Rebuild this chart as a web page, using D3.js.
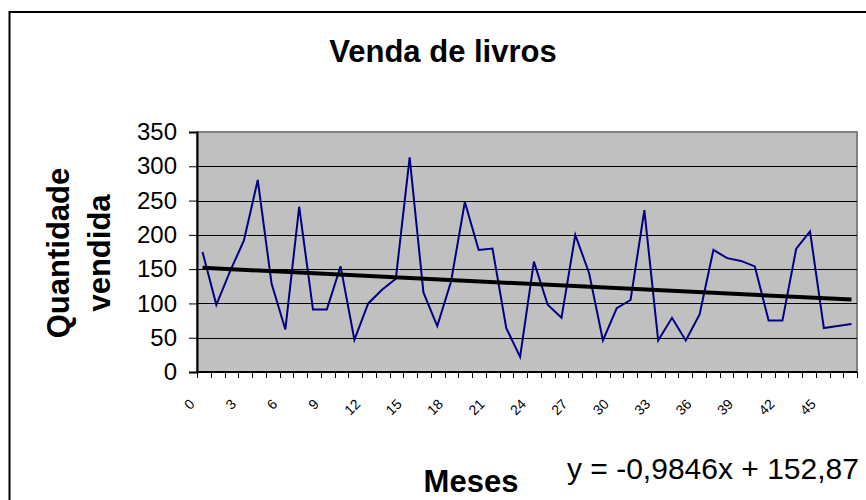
<!DOCTYPE html>
<html>
<head>
<meta charset="utf-8">
<script src="https://cdn.jsdelivr.net/npm/d3@7"></script>
<style>
  body { margin: 0; background: #fff; }
  text { font-family: "Liberation Sans", Arial, sans-serif; }
</style>
</head>
<body>
<div id="chart"></div>
<script>
// Venda de livros - line chart with linear trendline

const width = 866,
    height = 500;

// months (category labels) and books sold per month
const months = [0, 1, 2, 3, 4, 5, 6, 7, 8, 9, 10, 11, 12, 13, 14, 15, 16, 17, 18, 19, 20, 21, 22, 23,
  24, 25, 26, 27, 28, 29, 30, 31, 32, 33, 34, 35, 36, 37, 38, 39, 40, 41, 42, 43, 44, 45, 46, 47];
const sold = [175, 98, 147, 192, 280, 129, 62, 241, 91, 91, 154, 47, 100, 120, 136, 313, 116, 67, 132, 248, 178, 180, 64, 22,
  161, 98, 79, 200, 144, 46, 93, 105, 236, 46, 79, 46, 84, 178, 166, 162, 154, 75, 75, 180, 205, 64, 67, 70];
// only every third month gets a label
const xLabels = [0, 3, 6, 9, 12, 15, 18, 21, 24, 27, 30, 33, 36, 39, 42, 45];
const yTicks = [0, 50, 100, 150, 200, 250, 300, 350];

// trendline as printed on the chart
const slope = -0.9846,
    intercept = 152.87;
const equation = "y = -0,9846x + 152,87";

// plot area
const plotLeft = 197, plotRight = 857, plotTop = 132, plotBottom = 372;

let svg = d3.select("#chart")
  .append("svg")
    .attr("width", width)
    .attr("height", height);

svg.append("rect")
    .attr("width", width)
    .attr("height", height)
    .attr("fill", "white");

// chart frame (runs off the right and bottom)
svg.append("rect")
    .attr("x", 9.5)
    .attr("y", 12)
    .attr("width", 880)
    .attr("height", 520)
    .attr("fill", "none")
    .attr("stroke", "black")
    .attr("stroke-width", 2);

// scales
const y = d3.scaleLinear()
  .domain([0, 350])
  .range([plotBottom, plotTop]);

const xBand = d3.scaleBand()
  .domain(months)
  .range([plotLeft, plotRight]);

const x = d3.scalePoint()
  .domain(months)
  .range([plotLeft, plotRight])
  .padding(0.4);

// plot background
svg.append("rect")
    .attr("x", plotLeft)
    .attr("y", plotTop)
    .attr("width", plotRight - plotLeft)
    .attr("height", plotBottom - plotTop)
    .attr("fill", "#c0c0c0")
    .attr("stroke", "#808080")
    .attr("stroke-width", 2);

// horizontal gridlines
svg.selectAll("grid")
  .data(yTicks.filter(d => d > 0 && d < 350))
  .join("line")
    .attr("x1", plotLeft)
    .attr("x2", plotRight)
    .attr("y1", d => Math.round(y(d)) + 0.5)
    .attr("y2", d => Math.round(y(d)) + 0.5)
    .attr("stroke", "black")
    .attr("stroke-width", 1);

// y axis
const yAxis = svg.append("g")
    .attr("transform", `translate(${plotLeft}, 0)`)
    .call(d3.axisLeft(y).tickValues(yTicks).tickSize(8).tickPadding(12));
yAxis.select(".domain").attr("stroke-width", 2);
yAxis.selectAll("text")
    .attr("font-size", "24px")
    .attr("fill", "black")
    .attr("font-family", "Liberation Sans, Arial, sans-serif");

// x axis: tick marks sit on category boundaries
const xBounds = months.map(d => xBand(d)).concat([plotRight]);
svg.append("line")
    .attr("x1", plotLeft)
    .attr("x2", plotRight)
    .attr("y1", plotBottom)
    .attr("y2", plotBottom)
    .attr("stroke", "black")
    .attr("stroke-width", 2);
svg.selectAll("xtick")
  .data(xBounds)
  .join("line")
    .attr("x1", d => Math.round(d) + 0.5)
    .attr("x2", d => Math.round(d) + 0.5)
    .attr("y1", plotBottom)
    .attr("y2", plotBottom + 6)
    .attr("stroke", "black");

// rotated month labels
svg.selectAll("xlabel")
  .data(xLabels)
  .join("text")
    .text(d => d)
    .attr("text-anchor", "end")
    .attr("font-size", "14px")
    .attr("transform", d => `translate(${x(d) - 7}, ${plotBottom + 33}) rotate(-45)`);

// the series
const line = d3.line()
  .x((d, i) => x(months[i]))
  .y(d => y(d));

svg.append("path")
    .datum(sold)
    .attr("d", line)
    .attr("fill", "none")
    .attr("stroke", "#000080")
    .attr("stroke-width", 2)
    .attr("stroke-linejoin", "miter");

// linear trendline (Excel counts x from 1)
const first = months[0], last = months[months.length - 1];
svg.append("line")
    .attr("x1", x(first))
    .attr("y1", y(intercept + slope * 1))
    .attr("x2", x(last))
    .attr("y2", y(intercept + slope * months.length))
    .attr("stroke", "black")
    .attr("stroke-width", 4);

// titles
svg.append("text")
    .text("Venda de livros")
    .attr("x", 443)
    .attr("y", 62)
    .attr("text-anchor", "middle")
    .attr("font-size", "31px")
    .attr("font-weight", "bold");

svg.append("text")
    .text("Meses")
    .attr("x", 471)
    .attr("y", 492)
    .attr("text-anchor", "middle")
    .attr("font-size", "31px")
    .attr("font-weight", "bold");

let yTitle = svg.append("text")
    .attr("transform", "translate(0, 253) rotate(-90)")
    .attr("text-anchor", "middle")
    .attr("font-size", "31px")
    .attr("font-weight", "bold");
yTitle.append("tspan").attr("x", 0).attr("y", 69).text("Quantidade");
yTitle.append("tspan").attr("x", 0).attr("y", 110).text("vendida");

svg.append("text")
    .text(equation)
    .attr("x", 567)
    .attr("y", 479)
    .attr("font-size", "30px");
</script>
</body>
</html>
